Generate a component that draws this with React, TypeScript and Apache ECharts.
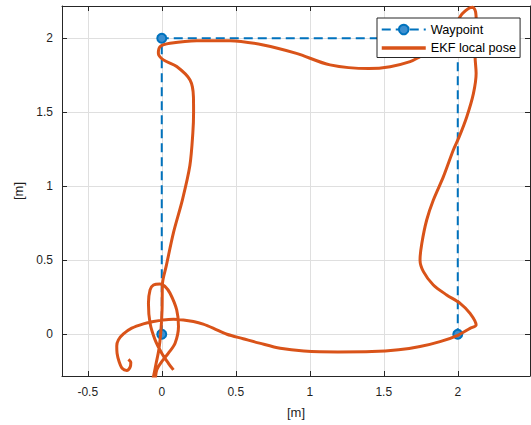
import React, { useEffect, useRef } from "react";
import * as echarts from "echarts";

const waypointX = [0, 0, 2, 2];
const waypointY = [0, 2, 2, 0];

const ekfX = [
  -0.225, -0.209, -0.214, -0.236, -0.266, -0.288, -0.302, -0.304, -0.293, -0.259,
  -0.203, -0.124, -0.056, 0.011, 0.079, 0.146, 0.214, 0.28, 0.35, 0.44,
  0.55, 0.66, 0.8, 0.96, 1.19, 1.42, 1.6, 1.745, 1.88, 2.004,
  2.083, 2.124, 2.083, 2.016, 1.925, 1.835, 1.768, 1.745, 1.757, 1.79,
  1.835, 1.903, 1.97, 2.01, 2.061, 2.106, 2.124, 2.117, 2.12, 2.125,
  2.12, 2.1, 2.07, 2.03, 2.0, 1.92, 1.83, 1.745, 1.678, 1.543,
  1.4, 1.137, 0.91, 0.686, 0.461, 0.236, 0.056, -0.011, -0.023, 0.011,
  0.101, 0.191, 0.214, 0.215, 0.21, 0.19, 0.14, 0.08, 0.03, 0.005,
  0.002, -0.007, -0.02, -0.038, -0.056, -0.065, -0.05, -0.034, 0.0, 0.045,
  0.09, 0.113, 0.101, 0.056, 0.02, -0.011, -0.056, -0.079, -0.09, -0.079,
  -0.045, 0.0, 0.045, 0.079,
];
const ekfY = [
  -0.169, -0.191, -0.223, -0.245, -0.232, -0.185, -0.128, -0.079, -0.038, 0.002,
  0.041, 0.07, 0.086, 0.097, 0.101, 0.097, 0.086, 0.068, 0.04, 0.0,
  -0.03, -0.06, -0.095, -0.113, -0.119, -0.117, -0.105, -0.083, -0.05, -0.005,
  0.04, 0.063, 0.141, 0.209, 0.266, 0.333, 0.423, 0.502, 0.614, 0.772,
  0.907, 1.065, 1.245, 1.335, 1.47, 1.628, 1.763, 1.876, 2.0, 2.1,
  2.18, 2.21, 2.2, 2.165, 2.12, 2.02, 1.92, 1.876, 1.842, 1.808,
  1.795, 1.82, 1.898, 1.955, 1.984, 1.984, 1.966, 1.944, 1.899, 1.854,
  1.809, 1.718, 1.605, 1.5, 1.36, 1.14, 0.91, 0.69, 0.46, 0.345,
  0.164, 0.007, -0.106, -0.196, -0.286, -0.32, -0.32, -0.241, -0.185, -0.128,
  -0.061, 0.052, 0.164, 0.277, 0.325, 0.34, 0.333, 0.3, 0.209, 0.074,
  -0.038, -0.128, -0.196, -0.241,
];

const xRange = [-0.674, 2.488];
const yRange = [-0.282, 2.218];
const axisTitleX = "[m]";
const axisTitleY = "[m]";

const FONT = "Liberation Sans";

function fmt(v: number) {
  const r = Math.round(v * 2) / 2;
  if (Math.abs(r - v) > 1e-6) return "";
  return String(r);
}

export default function App() {
  const ref = useRef<HTMLDivElement>(null);
  useEffect(() => {
    if (!ref.current) return;
    const chart = echarts.init(ref.current, undefined, { renderer: "svg" });
    const axisLine = { show: true, onZero: false, lineStyle: { color: "#262626", width: 1 } };
    const tick = { show: true, inside: true, length: 5, lineStyle: { color: "#262626" } };
    const split = { show: true, lineStyle: { color: "#dfdfdf", width: 1 } };
    const label = {
      color: "#1f1f1f",
      fontFamily: FONT,
      fontSize: 12,
      showMinLabel: false,
      showMaxLabel: false,
      formatter: (v: number) => fmt(v),
    };
    chart.setOption({
      animation: false,
      backgroundColor: "#fff",
      grid: { left: 62, right: 1, top: 6, bottom: 49, containLabel: false },
      xAxis: [
        {
          type: "value",
          min: xRange[0],
          max: xRange[1],
          splitNumber: 6,
          axisLine,
          axisTick: tick,
          splitLine: split,
          axisLabel: { ...label, margin: 10 },
          name: axisTitleX,
          nameLocation: "middle",
          nameGap: 30,
          nameTextStyle: { color: "#1f1f1f", fontFamily: FONT, fontSize: 13 },
        },
        {
          type: "value",
          position: "top",
          min: xRange[0],
          max: xRange[1],
          splitNumber: 6,
          axisLine,
          axisTick: tick,
          splitLine: { show: false },
          axisLabel: { show: false },
        },
      ],
      yAxis: [
        {
          type: "value",
          min: yRange[0],
          max: yRange[1],
          splitNumber: 5,
          axisLine,
          axisTick: tick,
          splitLine: split,
          axisLabel: { ...label, margin: 9 },
          name: axisTitleY,
          nameLocation: "middle",
          nameGap: 34,
          nameRotate: 90,
          nameTextStyle: { color: "#1f1f1f", fontFamily: FONT, fontSize: 13 },
        },
        {
          type: "value",
          position: "right",
          min: yRange[0],
          max: yRange[1],
          splitNumber: 5,
          axisLine,
          axisTick: tick,
          splitLine: { show: false },
          axisLabel: { show: false },
        },
      ],
      legend: {
        left: 377,
        top: 18,
        orient: "vertical",
        backgroundColor: "#fff",
        borderColor: "#262626",
        borderWidth: 1,
        borderRadius: 0,
        padding: [4, 4, 2, 3],
        itemGap: 3.5,
        itemWidth: 44,
        itemHeight: 12,
        textStyle: { color: "#000", fontFamily: FONT, fontSize: 12.7, lineHeight: 15 },
        data: [
          { name: "Waypoint", lineStyle: { width: 2 } },
          {
            name: "EKF local pose",
            itemStyle: { color: "rgba(0,0,0,0)", borderColor: "rgba(0,0,0,0)", borderWidth: 0 },
            lineStyle: { width: 3.5 },
          },
        ],
        z: 10,
      },
      series: [
        {
          name: "EKF local pose",
          type: "line",
          data: ekfX.map((x, i) => [x, ekfY[i]]),
          smooth: 0.3,
          symbol: "none",
          showSymbol: false,
          lineStyle: { color: "#D95319", width: 3 },
          itemStyle: { color: "#D95319" },
          clip: true,
          z: 3,
        },
        {
          name: "Waypoint",
          type: "line",
          data: waypointX.map((x, i) => [x, waypointY[i]]),
          symbol: "circle",
          symbolSize: 9,
          lineStyle: { color: "#0072BD", width: 2, type: [9, 5] },
          itemStyle: { color: "#3d8fd0", borderColor: "#0072BD", borderWidth: 2 },
          z: 2,
        },
      ],
    });
    return () => chart.dispose();
  }, []);
  return <div ref={ref} style={{ width: 531, height: 425, position: "absolute", left: 0, top: 0 }} />;
}
